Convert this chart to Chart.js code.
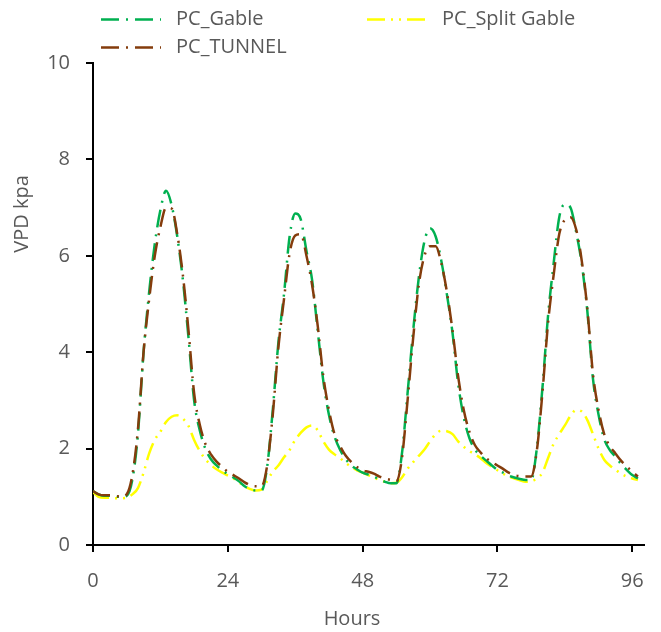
<!DOCTYPE html>
<html lang="en">
<head>
    <meta charset="UTF-8">
    <title>VPD by Hours</title>
    <script src="https://cdn.jsdelivr.net/npm/chart.js"></script>
    <style>
        body {
            margin: 0;
            padding: 0;
            background: #ffffff;
        }

        .chart-box {
            width: 661px;
            height: 632px;
        }
    </style>
</head>
<body>
    <div class="chart-box">
        <canvas id="vpdChart"></canvas>
    </div>

    <script>
        // Hourly VPD readings (kPa) over four days
        const hours = [
            0, 1, 2, 3, 4, 5, 6, 7, 8, 9,
            10, 11, 12, 13, 14, 15, 16, 17, 18, 19,
            20, 21, 22, 23, 24, 25, 26, 27, 28, 29,
            30, 31, 32, 33, 34, 35, 36, 37, 38, 39,
            40, 41, 42, 43, 44, 45, 46, 47, 48, 49,
            50, 51, 52, 53, 54, 55, 56, 57, 58, 59,
            60, 61, 62, 63, 64, 65, 66, 67, 68, 69,
            70, 71, 72, 73, 74, 75, 76, 77, 78, 79,
            80, 81, 82, 83, 84, 85, 86, 87, 88, 89,
            90, 91, 92, 93, 94, 95, 96, 97
        ];

        const pcGable = [
            1.12, 1.05, 1.02, 1.02, 1.00, 1.00, 1.02, 1.35, 2.30, 4.00,
            5.25, 6.25, 6.95, 7.35, 7.05, 6.40, 5.50, 4.30, 3.00, 2.38,
            2.00, 1.78, 1.65, 1.55, 1.47, 1.40, 1.32, 1.22, 1.16, 1.13,
            1.13, 1.62, 2.80, 4.20, 5.20, 6.40, 6.88, 6.75, 6.10, 5.50,
            4.45, 3.40, 2.70, 2.25, 1.97, 1.78, 1.65, 1.57, 1.50, 1.46,
            1.42, 1.36, 1.31, 1.28, 1.28, 1.90, 3.15, 4.45, 5.55, 6.30,
            6.57, 6.40, 5.90, 5.20, 4.40, 3.35, 2.65, 2.22, 1.98, 1.85,
            1.75, 1.65, 1.56, 1.50, 1.44, 1.40, 1.37, 1.35, 1.35, 2.00,
            3.25, 4.75, 5.84, 6.80, 7.07, 7.00, 6.50, 5.84, 4.85, 3.45,
            2.70, 2.20, 1.97, 1.83, 1.68, 1.56, 1.45, 1.38
        ];

        const pcSplitGable = [
            1.10, 1.00, 0.98, 0.98, 0.97, 0.97, 0.98, 1.05, 1.18, 1.50,
            1.90, 2.18, 2.35, 2.55, 2.66, 2.69, 2.62, 2.47, 2.18, 1.95,
            1.78, 1.66, 1.57, 1.50, 1.44, 1.38, 1.30, 1.22, 1.16, 1.13,
            1.15, 1.33, 1.52, 1.65, 1.82, 1.97, 2.18, 2.33, 2.44, 2.48,
            2.38, 2.15, 1.98, 1.88, 1.80, 1.70, 1.62, 1.55, 1.50, 1.45,
            1.40, 1.35, 1.31, 1.28, 1.29, 1.40, 1.58, 1.72, 1.85, 1.98,
            2.15, 2.30, 2.37, 2.36, 2.30, 2.15, 2.04, 1.95, 1.88, 1.80,
            1.70, 1.62, 1.55, 1.48, 1.42, 1.38, 1.34, 1.31, 1.32, 1.38,
            1.50, 1.80, 2.10, 2.30, 2.48, 2.68, 2.80, 2.77, 2.59, 2.30,
            2.00, 1.77, 1.65, 1.56, 1.48, 1.42, 1.38, 1.35
        ];

        const pcTunnel = [
            1.12, 1.05, 1.03, 1.03, 1.02, 1.00, 1.05, 1.45, 2.40, 4.00,
            5.10, 6.00, 6.60, 7.00, 6.98, 6.45, 5.60, 4.45, 3.15, 2.50,
            2.10, 1.88, 1.73, 1.62, 1.52, 1.45, 1.38, 1.30, 1.24, 1.22,
            1.22, 1.65, 2.70, 4.10, 5.10, 6.05, 6.42, 6.45, 6.00, 5.40,
            4.55, 3.50, 2.80, 2.30, 2.05, 1.85, 1.72, 1.62, 1.55, 1.52,
            1.48, 1.42, 1.38, 1.35, 1.32, 1.80, 3.00, 4.30, 5.40, 6.00,
            6.20, 6.20, 5.85, 5.25, 4.45, 3.50, 2.80, 2.35, 2.07, 1.92,
            1.80, 1.72, 1.65, 1.58, 1.50, 1.45, 1.43, 1.42, 1.42, 1.95,
            3.15, 4.60, 5.60, 6.45, 6.75, 6.80, 6.55, 5.90, 4.90, 3.55,
            2.80, 2.30, 2.05, 1.90, 1.75, 1.63, 1.52, 1.42
        ];

        const xTicks = [0, 24, 48, 72, 96];
        const yTicks = [0, 2, 4, 6, 8, 10];

        const textColor = '#595959';
        const fontFamily = "'Open Sans', 'Noto Sans', sans-serif";

        function toPoints(values) {
            return hours.map((h, i) => ({ x: h, y: values[i] }));
        }

        // Legend drawn in two fixed columns, top left
        const legendPlugin = {
            id: 'fixedLegend',
            afterDraw(chart) {
                const ctx = chart.ctx;
                const slots = [
                    { index: 0, x: 101, y: 19.5 },
                    { index: 1, x: 367, y: 19.5 },
                    { index: 2, x: 101, y: 47.5 }
                ];
                ctx.save();
                slots.forEach(s => {
                    const ds = chart.data.datasets[s.index];
                    ctx.strokeStyle = ds.borderColor;
                    ctx.lineWidth = ds.borderWidth;
                    ctx.setLineDash(ds.borderDash);
                    ctx.beginPath();
                    ctx.moveTo(s.x, s.y);
                    ctx.lineTo(s.x + 60, s.y);
                    ctx.stroke();
                    ctx.setLineDash([]);
                    ctx.fillStyle = textColor;
                    ctx.font = '20px ' + fontFamily;
                    ctx.textAlign = 'left';
                    ctx.textBaseline = 'middle';
                    ctx.fillText(ds.label, s.x + 75, s.y);
                });

                // axis titles
                ctx.font = '20px ' + fontFamily;
                ctx.textAlign = 'center';
                ctx.textBaseline = 'middle';
                ctx.fillText('Hours', 352, 619);
                ctx.translate(22, 214);
                ctx.rotate(-Math.PI / 2);
                ctx.fillText('VPD kpa', 0, 0);
                ctx.restore();
            }
        };

        const axisGrid = {
            drawOnChartArea: false,
            drawTicks: true,
            tickLength: 7,
            color: '#000000',
            lineWidth: 2
        };

        new Chart(document.getElementById('vpdChart'), {
            type: 'line',
            data: {
                datasets: [{
                    label: 'PC_Gable',
                    data: toPoints(pcGable),
                    borderColor: '#00B050',
                    borderWidth: 2.5,
                    borderDash: [18, 7, 2, 7],
                    order: 1
                }, {
                    label: 'PC_Split Gable',
                    data: toPoints(pcSplitGable),
                    borderColor: '#FFFF00',
                    borderWidth: 2.5,
                    borderDash: [18, 6, 2, 6, 2, 6],
                    order: 2
                }, {
                    label: 'PC_TUNNEL',
                    data: toPoints(pcTunnel),
                    borderColor: '#843C0C',
                    borderWidth: 2.5,
                    borderDash: [18, 7, 2, 7],
                    order: 0
                }]
            },
            options: {
                responsive: true,
                maintainAspectRatio: false,
                animation: false,
                layout: {
                    padding: { top: 63, right: 14, left: 0, bottom: 0 }
                },
                elements: {
                    point: { radius: 0 },
                    line: { cubicInterpolationMode: 'monotone', fill: false }
                },
                plugins: {
                    legend: { display: false },
                    tooltip: { enabled: false }
                },
                scales: {
                    x: {
                        type: 'linear',
                        min: 0,
                        max: 98,
                        afterBuildTicks: s => { s.ticks = xTicks.map(v => ({ value: v })); },
                        afterFit: s => { s.height = 87; },
                        ticks: {
                            color: textColor,
                            font: { family: fontFamily, size: 20 },
                            padding: 17,
                            maxRotation: 0
                        },
                        grid: axisGrid,
                        border: { display: true, color: '#000000', width: 2 }
                    },
                    y: {
                        min: 0,
                        max: 10,
                        afterBuildTicks: s => { s.ticks = yTicks.map(v => ({ value: v })); },
                        afterFit: s => { s.width = 93; },
                        ticks: {
                            color: textColor,
                            font: { family: fontFamily, size: 20 },
                            padding: 16
                        },
                        grid: axisGrid,
                        border: { display: true, color: '#000000', width: 2 }
                    }
                }
            },
            plugins: [legendPlugin]
        });
    </script>
</body>
</html>
